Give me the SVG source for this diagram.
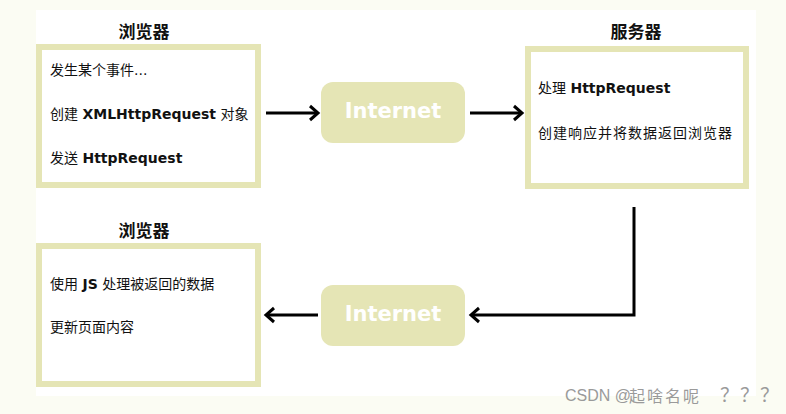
<svg xmlns="http://www.w3.org/2000/svg" width="786" height="414" viewBox="0 0 786 414">
<style>
.box{fill:#ffffff;stroke:#e5e5b5;stroke-width:6}
.net{fill:#e5e5b5}
.title{font-family:"DejaVu Sans","Noto Sans CJK SC",sans-serif;font-size:17px;font-weight:bold;fill:#111;text-anchor:middle}
.t{font-family:"DejaVu Sans","Noto Sans CJK SC",sans-serif;font-size:14px;fill:#111}
.b{font-weight:bold}
.nt{font-family:"DejaVu Sans",Verdana,sans-serif;font-size:21px;font-weight:bold;fill:#ffffff;text-anchor:middle}
.ln{stroke:#000;stroke-width:3;fill:none}
.wm{font-family:"Liberation Sans","Noto Sans CJK SC",sans-serif;font-size:16px;fill:#9a9a9a}
</style>
<defs>
<marker id="ah" markerUnits="userSpaceOnUse" markerWidth="14" markerHeight="18" viewBox="0 0 14 18" refX="11" refY="9" orient="auto">
<path d="M3,2 L11,9 L3,16" fill="none" stroke="#000" stroke-width="3"/>
</marker>
</defs>
<rect x="0" y="0" width="786" height="414" fill="#fbfcf3"/>
<rect x="36" y="10" width="720" height="386" fill="#ffffff"/>
<g id="browser1">
<text class="title" x="144" y="38">浏览器</text>
<rect class="box" x="39" y="47" width="219" height="138"/>
<text class="t" x="50" y="75">发生某个事件...</text>
<text class="t" x="50" y="119">创建 <tspan class="b">XMLHttpRequest</tspan> 对象</text>
<text class="t" x="50" y="163">发送 <tspan class="b">HttpRequest</tspan></text>
</g>
<g id="internet1">
<rect class="net" x="321" y="82" width="144" height="61" rx="12"/>
<text class="nt" x="393" y="118">Internet</text>
</g>
<g id="server">
<text class="title" x="636" y="38">服务器</text>
<rect class="box" x="528" y="49" width="218" height="137"/>
<text class="t" x="538" y="93">处理 <tspan class="b">HttpRequest</tspan></text>
<text class="t" x="538" y="138" letter-spacing="1">创建响应并将数据返回浏览器</text>
</g>
<g id="browser2">
<text class="title" x="144" y="237">浏览器</text>
<rect class="box" x="39" y="246" width="219" height="138"/>
<text class="t" x="50" y="289">使用 <tspan class="b">JS</tspan> 处理被返回的数据</text>
<text class="t" x="50" y="332">更新页面内容</text>
</g>
<g id="internet2">
<rect class="net" x="321" y="285" width="144" height="61" rx="12"/>
<text class="nt" x="393" y="321">Internet</text>
</g>
<g id="connectors">
<line class="ln" x1="266" y1="113" x2="318" y2="113" marker-end="url(#ah)"/>
<line class="ln" x1="470" y1="113" x2="522" y2="113" marker-end="url(#ah)"/>
<polyline class="ln" points="634,207 634,315 471,315" marker-end="url(#ah)"/>
<line class="ln" x1="318" y1="315" x2="266" y2="315" marker-end="url(#ah)"/>
</g>
<text class="wm" x="565" y="401">CSDN @</text>
<text class="wm" x="629" y="402" font-size="20" letter-spacing="2">起啥名呢<tspan x="720 740 760" letter-spacing="0" font-size="19">？？？</tspan></text>
</svg>
